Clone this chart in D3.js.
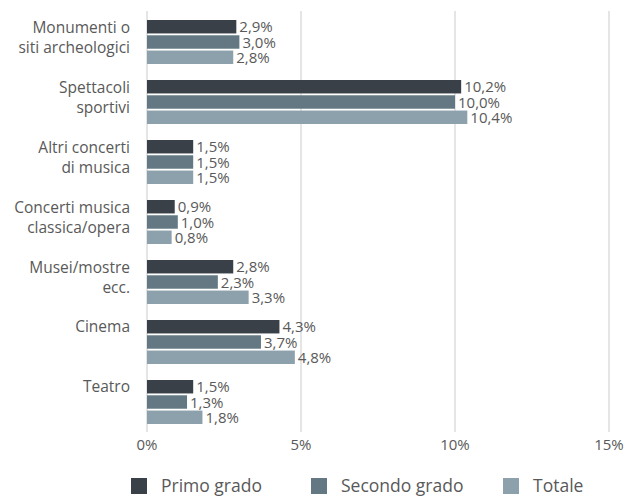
<!DOCTYPE html>
<html>
<head>
<meta charset="utf-8">
<script src="https://cdn.jsdelivr.net/npm/d3@7"></script>
<style>
  body { margin: 0; background: #fff; }
  svg text { font-family: "Open Sans", sans-serif; fill: #595959; }
</style>
</head>
<body>
<div id="chart"></div>
<script>
"use strict";

const categories = [
    ["Monumenti o", "siti archeologici"],
    ["Spettacoli", "sportivi"],
    ["Altri concerti", "di musica"],
    ["Concerti musica", "classica/opera"],
    ["Musei/mostre", "ecc."],
    ["Cinema"],
    ["Teatro"]
];

const seriesNames = ["Primo grado", "Secondo grado", "Totale"];
const colors = ["#394048", "#637882", "#8da1ac"];

const primoGrado   = [2.9, 10.2, 1.5, 0.9, 2.8, 4.3, 1.5];
const secondoGrado = [3.0, 10.0, 1.5, 1.0, 2.3, 3.7, 1.3];
const totale       = [2.8, 10.4, 1.5, 0.8, 3.3, 4.8, 1.8];

const xTicks = [0, 5, 10, 15];

const values = [primoGrado, secondoGrado, totale];

const width = 627;
const height = 498;

const x = d3.scaleLinear()
    .domain([0, 15])
    .range([147, 609]);

const y = d3.scaleBand()
    .domain(d3.range(categories.length))
    .range([20, 424])
    .paddingInner(16 / 60)
    .paddingOuter(0);

const ySub = d3.scaleBand()
    .domain(d3.range(seriesNames.length))
    .range([0, y.bandwidth()])
    .paddingInner(0.12);

const fmt = v => d3.format(".1f")(v).replace(".", ",") + "%";

const svg = d3.select("#chart").append("svg")
    .attr("width", width)
    .attr("height", height);

// gridlines
svg.append("g")
    .selectAll("line")
    .data(xTicks)
    .join("line")
        .attr("x1", d => x(d))
        .attr("x2", d => x(d))
        .attr("y1", 11)
        .attr("y2", 432)
        .attr("stroke", "#dcdcdc")
        .attr("stroke-width", 1.5);

// x tick labels
svg.append("g")
    .selectAll("text")
    .data(xTicks)
    .join("text")
        .attr("x", d => x(d))
        .attr("y", 450)
        .attr("text-anchor", "middle")
        .style("font-size", "15px")
        .text(d => d + "%");

// bars
const groups = svg.append("g")
    .selectAll("g")
    .data(categories)
    .join("g")
        .attr("transform", (d, i) => `translate(0,${y(i)})`);

groups.each(function (cat, i) {
    const g = d3.select(this);
    const rows = values.map((s, k) => ({k: k, v: s[i]}));

    g.selectAll("rect")
        .data(rows)
        .join("rect")
            .attr("x", x(0))
            .attr("y", d => ySub(d.k))
            .attr("width", d => x(d.v) - x(0))
            .attr("height", ySub.bandwidth())
            .attr("fill", d => colors[d.k]);

    g.selectAll("text.val")
        .data(rows)
        .join("text")
            .attr("class", "val")
            .attr("x", d => x(d.v) + 3)
            .attr("y", d => ySub(d.k) + ySub.bandwidth() / 2 + 5.5)
            .style("font-size", "15px")
            .text(d => fmt(d.v));

    // category labels sit near the top of the group, like the original
    const mid = y.bandwidth() / 2;
    const lines = cat.length === 1 ? [mid - 10] : [mid - 9, mid + 11];
    g.selectAll("text.cat")
        .data(cat)
        .join("text")
            .attr("class", "cat")
            .attr("x", 130)
            .attr("y", (d, j) => lines[j])
            .attr("text-anchor", "end")
            .style("font-size", "15.5px")
            .text(d => d);
});

// legend
const legendX = [131, 311, 503];
const legend = svg.append("g")
    .selectAll("g")
    .data(seriesNames)
    .join("g")
        .attr("transform", (d, i) => `translate(${legendX[i]},478)`);

legend.append("rect")
    .attr("width", 16)
    .attr("height", 16)
    .attr("fill", (d, i) => colors[i]);

legend.append("text")
    .attr("x", 30)
    .attr("y", 14)
    .style("font-size", "17.5px")
    .text(d => d);
</script>
</body>
</html>
